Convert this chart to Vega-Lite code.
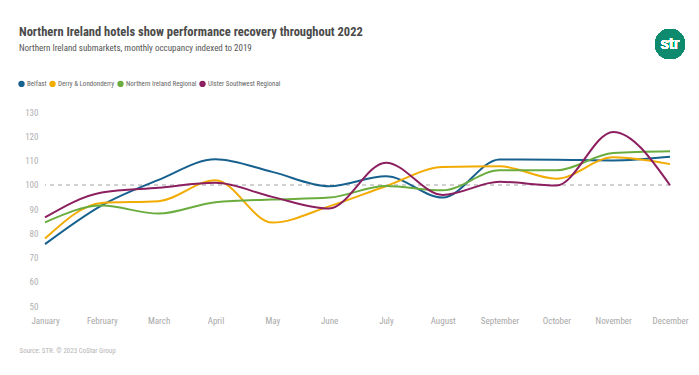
{
  "$schema": "https://vega.github.io/schema/vega-lite/v6.json",
  "autosize": {"type": "none"},
  "width": 625,
  "height": 194,
  "padding": {"left": 45, "top": 112, "right": 29, "bottom": 69},
  "background": "white",
  "title": {
    "text": "Northern Ireland hotels show performance recovery throughout 2022",
    "subtitle": "Northern Ireland submarkets, monthly occupancy indexed to 2019",
    "anchor": "start",
    "frame": "group",
    "dx": -26,
    "dy": 46,
    "offset": 22,
    "font": "Roboto Condensed, Liberation Sans Narrow, DejaVu Sans Condensed, Roboto",
    "fontSize": 12.5,
    "fontWeight": "bold",
    "color": "#4a4a4a",
    "subtitleFont": "Roboto Condensed, Liberation Sans Narrow, DejaVu Sans Condensed, Roboto",
    "subtitleFontSize": 9,
    "subtitleColor": "#555555",
    "subtitlePadding": 6
  },
  "config": {
    "view": {"stroke": null},
    "font": "Roboto Condensed, Liberation Sans Narrow, DejaVu Sans Condensed, Roboto"
  },
  "data": {
    "values": [
      {"month": "January", "market": "Belfast", "value": 75.5},
      {"month": "February", "market": "Belfast", "value": 91.5},
      {"month": "March", "market": "Belfast", "value": 102},
      {"month": "April", "market": "Belfast", "value": 110.5},
      {"month": "May", "market": "Belfast", "value": 105.3},
      {"month": "June", "market": "Belfast", "value": 99.4},
      {"month": "July", "market": "Belfast", "value": 103.5},
      {"month": "August", "market": "Belfast", "value": 94.7},
      {"month": "September", "market": "Belfast", "value": 110.4},
      {"month": "October", "market": "Belfast", "value": 110.3},
      {"month": "November", "market": "Belfast", "value": 110},
      {"month": "December", "market": "Belfast", "value": 111.5},
      {"month": "January", "market": "Derry & Londonderry", "value": 77.8},
      {"month": "February", "market": "Derry & Londonderry", "value": 92.5},
      {"month": "March", "market": "Derry & Londonderry", "value": 93.2},
      {"month": "April", "market": "Derry & Londonderry", "value": 101.9},
      {"month": "May", "market": "Derry & Londonderry", "value": 84.4},
      {"month": "June", "market": "Derry & Londonderry", "value": 91.1},
      {"month": "July", "market": "Derry & Londonderry", "value": 99.4},
      {"month": "August", "market": "Derry & Londonderry", "value": 107.3},
      {"month": "September", "market": "Derry & Londonderry", "value": 107.6},
      {"month": "October", "market": "Derry & Londonderry", "value": 102.5},
      {"month": "November", "market": "Derry & Londonderry", "value": 111.3},
      {"month": "December", "market": "Derry & Londonderry", "value": 108.5},
      {"month": "January", "market": "Northern Ireland Regional", "value": 84.5},
      {"month": "February", "market": "Northern Ireland Regional", "value": 91.4},
      {"month": "March", "market": "Northern Ireland Regional", "value": 88.1},
      {"month": "April", "market": "Northern Ireland Regional", "value": 92.8},
      {"month": "May", "market": "Northern Ireland Regional", "value": 93.9},
      {"month": "June", "market": "Northern Ireland Regional", "value": 94.7},
      {"month": "July", "market": "Northern Ireland Regional", "value": 99.5},
      {"month": "August", "market": "Northern Ireland Regional", "value": 97.7},
      {"month": "September", "market": "Northern Ireland Regional", "value": 106},
      {"month": "October", "market": "Northern Ireland Regional", "value": 106},
      {"month": "November", "market": "Northern Ireland Regional", "value": 113.1},
      {"month": "December", "market": "Northern Ireland Regional", "value": 113.8},
      {"month": "January", "market": "Ulster Southwest Regional", "value": 86.5},
      {"month": "February", "market": "Ulster Southwest Regional", "value": 96.8},
      {"month": "March", "market": "Ulster Southwest Regional", "value": 98.8},
      {"month": "April", "market": "Ulster Southwest Regional", "value": 100.8},
      {"month": "May", "market": "Ulster Southwest Regional", "value": 95},
      {"month": "June", "market": "Ulster Southwest Regional", "value": 90.2},
      {"month": "July", "market": "Ulster Southwest Regional", "value": 109.1},
      {"month": "August", "market": "Ulster Southwest Regional", "value": 95.8},
      {"month": "September", "market": "Ulster Southwest Regional", "value": 101.2},
      {"month": "October", "market": "Ulster Southwest Regional", "value": 99.7},
      {"month": "November", "market": "Ulster Southwest Regional", "value": 121.8},
      {"month": "December", "market": "Ulster Southwest Regional", "value": 99.8}
    ]
  },
  "encoding": {
    "x": {
      "field": "month",
      "type": "ordinal",
      "sort": ["January", "February", "March", "April", "May", "June", "July", "August", "September", "October", "November", "December"],
      "scale": {"type": "point", "padding": 0},
      "axis": {
        "title": "Source: STR. © 2023 CoStar Group",
        "titleAnchor": "start",
        "titleAlign": "left",
        "titleX": -26,
        "titleY": 44,
        "titleBaseline": "middle",
        "titleFontSize": 7,
        "titleFontWeight": "normal",
        "titleColor": "#b5b5b5",
        "labelAngle": 0,
        "labelFontSize": 9,
        "labelColor": "#a8a8a8",
        "labelPadding": 10,
        "domain": false,
        "ticks": false,
        "grid": false
      }
    },
    "y": {
      "field": "value",
      "type": "quantitative",
      "scale": {"domain": [50, 130], "nice": false, "zero": false},
      "axis": {
        "title": null,
        "values": [50, 60, 70, 80, 90, 100, 110, 120, 130],
        "labelFontSize": 9,
        "labelColor": "#b0b0b0",
        "labelPadding": 7,
        "domain": false,
        "ticks": false,
        "grid": false
      }
    }
  },
  "layer": [
    {
      "mark": {"type": "rule", "color": "#d0d0d0", "strokeDash": [4, 4], "strokeWidth": 1},
      "encoding": {"y": {"datum": 100}, "x": null}
    },
    {
      "mark": {"type": "line", "interpolate": "monotone", "strokeWidth": 2},
      "encoding": {
        "color": {
          "field": "market",
          "type": "nominal",
          "scale": {
            "domain": ["Belfast", "Derry & Londonderry", "Northern Ireland Regional", "Ulster Southwest Regional"],
            "range": ["#17618f", "#f2ab00", "#6aad3e", "#8c1f5f"]
          },
          "legend": {
            "title": null,
            "orient": "none",
            "legendX": -27,
            "legendY": -32,
            "direction": "horizontal",
            "columns": 4,
            "symbolType": "circle",
            "symbolSize": 12,
            "symbolStrokeWidth": 3,
            "symbolOpacity": 1,
            "labelFontSize": 7,
            "labelColor": "#666666",
            "labelOffset": 2,
            "columnPadding": -3
          }
        }
      }
    },
    {
      "mark": {"type": "point", "filled": true, "size": 900, "color": "#0e8a6e", "opacity": 1},
      "encoding": {"x": {"datum": "December"}, "y": {"datum": 158}}
    },
    {
      "mark": {"type": "text", "text": "str", "color": "white", "fontSize": 16, "fontWeight": "normal", "font": "Roboto", "baseline": "middle"},
      "encoding": {"x": {"datum": "December"}, "y": {"datum": 158}}
    }
  ]
}
